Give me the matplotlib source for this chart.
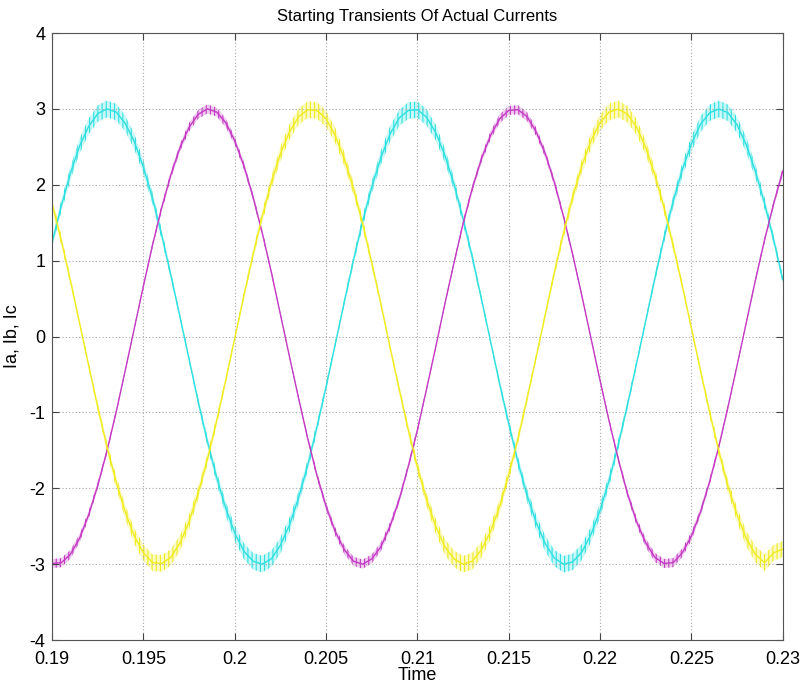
import numpy as np
import matplotlib
matplotlib.use("Agg")
import matplotlib.pyplot as plt


# time base: 0.19 .. 0.23, one reading every 0.5 ms
T_START = 0.19
T_STEP = 0.0005

# values (centre of the rippled trace)
ic_cyan = [
    1.24, 1.72, 2.15, 2.51, 2.77, 2.94, 3.00, 2.96, 2.81, 2.57,
    2.23, 1.82, 1.34, 0.81, 0.26, -0.30, -0.86, -1.38, -1.85, -2.26,
    -2.59, -2.83, -2.96, -3.00, -2.93, -2.75, -2.48, -2.12, -1.69, -1.19,
    -0.66, -0.10, 0.46, 1.01, 1.52, 1.97, 2.36, 2.67, 2.88, 2.98,
    2.99, 2.89, 2.69, 2.39, 2.01, 1.55, 1.05, 0.50, -0.06, -0.62,
    -1.15, -1.65, -2.09, -2.45, -2.73, -2.92, -3.00, -2.97, -2.84, -2.61,
    -2.29, -1.89, -1.42, -0.90, -0.35, 0.21, 0.77, 1.30, 1.78, 2.20,
    2.54, 2.80, 2.95, 3.00, 2.95, 2.79, 2.53, 2.18, 1.76, 1.28,
    0.75,
]

ib_magenta = [
    -2.99, -2.98, -2.87, -2.66, -2.35, -1.96, -1.51, -1.00, -0.45, 0.11,
    0.67, 1.21, 1.70, 2.13, 2.49, 2.76, 2.93, 3.00, 2.96, 2.82,
    2.58, 2.25, 1.84, 1.37, 0.85, 0.29, -0.27, -0.82, -1.35, -1.83,
    -2.24, -2.57, -2.81, -2.96, -3.00, -2.93, -2.77, -2.50, -2.15, -1.71,
    -1.23, -0.69, -0.14, 0.43, 0.97, 1.49, 1.95, 2.34, 2.65, 2.87,
    2.98, 2.99, 2.90, 2.70, 2.41, 2.03, 1.58, 1.08, 0.54, -0.02,
    -0.58, -1.12, -1.62, -2.07, -2.44, -2.72, -2.91, -2.99, -2.98, -2.85,
    -2.63, -2.31, -1.91, -1.45, -0.93, -0.38, 0.18, 0.74, 1.27, 1.75,
    2.18,
]

ia_yellow = [
    1.75, 1.27, 0.74, 0.18, -0.38, -0.93, -1.45, -1.91, -2.31, -2.63,
    -2.85, -2.98, -2.99, -2.91, -2.72, -2.44, -2.06, -1.62, -1.12, -0.58,
    -0.02, 0.54, 1.08, 1.58, 2.03, 2.41, 2.70, 2.90, 2.99, 2.98,
    2.87, 2.65, 2.34, 1.95, 1.49, 0.97, 0.43, -0.14, -0.69, -1.23,
    -1.72, -2.15, -2.50, -2.77, -2.93, -3.00, -2.96, -2.81, -2.57, -2.24,
    -1.82, -1.35, -0.82, -0.27, 0.29, 0.85, 1.37, 1.84, 2.25, 2.58,
    2.82, 2.96, 3.00, 2.93, 2.76, 2.49, 2.13, 1.70, 1.20, 0.67,
    0.11, -0.45, -1.00, -1.51, -1.97, -2.35, -2.66, -2.87, -2.98, -2.85,
    -2.80,
]

# switching ripple seen on each trace at its peaks (half height)
ripple_peak = [0.11, 0.06, 0.11]
series_colors = ["#2ee0e0", "#c43ac4", "#f0ec20"]

X_TICKS = [0.19, 0.195, 0.2, 0.205, 0.21, 0.215, 0.22, 0.225, 0.23]
X_TICK_LABELS = ["0.19", "0.195", "0.2", "0.205", "0.21", "0.215", "0.22", "0.225", "0.23"]
Y_TICKS = [-4, -3, -2, -1, 0, 1, 2, 3, 4]


def main():
    plt.rcParams["font.family"] = ["Liberation Sans", "DejaVu Sans"]
    plt.rcParams["axes.unicode_minus"] = False
    plt.rcParams["hatch.linewidth"] = 0.8

    t = T_START + T_STEP * np.arange(len(ic_cyan))

    fig = plt.figure(figsize=(8.02, 6.89), dpi=100)
    ax = fig.add_axes([0.065, 0.071, 0.911, 0.881])

    for values, rip, color in zip([ic_cyan, ib_magenta, ia_yellow], ripple_peak, series_colors):
        v = np.array(values)
        band = rip * (0.3 + 0.7 * np.abs(v) / 3.0)
        ax.fill_between(t, v - band, v + band, facecolor=color, alpha=0.25, lw=0)
        ax.fill_between(t, v - band, v + band, facecolor="none", edgecolor=color,
                        hatch="||||", lw=0)
        ax.plot(t, v, color=color, lw=1.0)

    ax.set_xlim(0.19, 0.23)
    ax.set_ylim(-4, 4)
    ax.set_xticks(X_TICKS)
    ax.set_xticklabels(X_TICK_LABELS)
    ax.set_yticks(Y_TICKS)

    ax.grid(True, color="#a8a8a8", linestyle=(0, (1, 2)), linewidth=0.8)
    ax.tick_params(direction="in", top=True, right=True, length=5,
                   labelsize=13, color="#444444")
    ax.tick_params(axis="x", pad=8)
    ax.tick_params(axis="y", pad=5)
    for spine in ax.spines.values():
        spine.set_color("#555555")

    ax.set_title("Starting Transients Of Actual Currents", fontsize=12, pad=9)
    ax.set_xlabel("Time", fontsize=13, labelpad=-1)
    ax.set_ylabel("Ia, Ib, Ic", fontsize=13, labelpad=6)

    fig.savefig("out.png", dpi=100)
    plt.close(fig)


if __name__ == "__main__":
    main()
